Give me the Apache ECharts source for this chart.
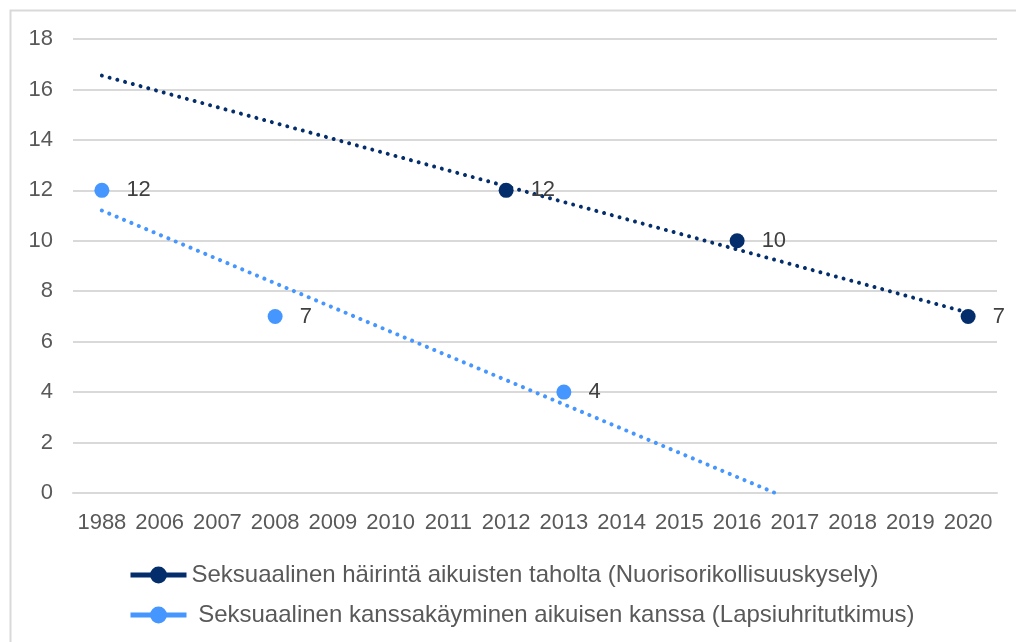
<!DOCTYPE html>
<html>
<head>
<meta charset="utf-8">
<script src="https://cdn.jsdelivr.net/npm/echarts@6/dist/echarts.min.js"></script>
<style>
  html, body { margin: 0; padding: 0; background: #fff; }
  #chart { width: 1016px; height: 642px; }
</style>
</head>
<body>
<div id="chart"></div>
<script>
var years = ['1988', '2006', '2007', '2008', '2009', '2010', '2011', '2012',
  '2013', '2014', '2015', '2016', '2017', '2018', '2019', '2020'];

var nameHarassment = 'Seksuaalinen häirintä aikuisten taholta (Nuorisorikollisuuskysely)';
var nameContact = ' Seksuaalinen kanssakäyminen aikuisen kanssa (Lapsiuhritutkimus)';

var harassment = [null, null, null, null, null, null, null, 12,
  null, null, null, 10, null, null, null, 7];
var contact = [12, null, null, 7, null, null, null, null,
  4, null, null, null, null, null, null, null];

// trendline end points (x = category index)
var harassmentTrend = [[0, 16.55], [15, 7.15]];
var contactTrend = [[0, 11.2], [11.66, 0]];

var navy = '#042e6b';
var blue = '#4596ff';
var font = 'Liberation Sans, Arial, sans-serif';

var chart = echarts.init(document.getElementById('chart'));

var labelStyle = {
  show: true,
  position: 'right',
  distance: 17,
  color: '#404040',
  fontSize: 22,
  fontFamily: font
};

var legendText = {
  color: '#595959',
  fontSize: 24,
  fontFamily: font
};

var option = {
  animation: false,
  backgroundColor: '#fff',
  graphic: [{
    type: 'rect',
    shape: { x: 10.5, y: 10.5, width: 1100, height: 800 },
    style: { fill: 'none', stroke: '#d9d9d9', lineWidth: 2 },
    silent: true,
    z: -1
  }],
  grid: { left: 73, right: 19, top: 39, bottom: 149 },
  legend: [{
    data: [nameHarassment],
    left: 128,
    top: 563,
    padding: 0,
    itemWidth: 56,
    itemHeight: 21,
    textStyle: legendText,
    lineStyle: { width: 5, opacity: 1 }
  }, {
    data: [nameContact],
    left: 128,
    top: 603,
    padding: 0,
    itemWidth: 56,
    itemHeight: 21,
    textStyle: legendText,
    lineStyle: { width: 5, opacity: 1 }
  }],
  xAxis: [{
    type: 'category',
    data: years,
    boundaryGap: true,
    axisLine: { lineStyle: { color: '#d9d9d9', width: 2 } },
    axisTick: { show: false },
    axisLabel: {
      color: '#595959',
      fontSize: 22,
      margin: 19,
      interval: 0,
      fontFamily: font
    }
  }, {
    type: 'value',
    min: -0.5,
    max: 15.5,
    show: false
  }],
  yAxis: {
    type: 'value',
    min: 0,
    max: 18,
    interval: 2,
    axisLine: { show: false },
    axisTick: { show: false },
    splitLine: { lineStyle: { color: '#d9d9d9', width: 2 } },
    axisLabel: {
      color: '#595959',
      fontSize: 22,
      margin: 20,
      fontFamily: font
    }
  },
  series: [{
    name: nameHarassment + ' trend',
    type: 'line',
    xAxisIndex: 1,
    data: harassmentTrend,
    symbol: 'none',
    silent: true,
    lineStyle: { color: navy, width: 4, type: [0.01, 8], cap: 'round' },
    z: 1
  }, {
    name: nameContact + ' trend',
    type: 'line',
    xAxisIndex: 1,
    data: contactTrend,
    symbol: 'none',
    silent: true,
    lineStyle: { color: blue, width: 4, type: [0.01, 8], cap: 'round' },
    z: 1
  }, {
    name: nameHarassment,
    type: 'line',
    data: harassment,
    symbol: 'circle',
    symbolSize: 15,
    connectNulls: false,
    itemStyle: { color: navy },
    lineStyle: { color: navy, opacity: 0 },
    label: labelStyle,
    z: 3
  }, {
    name: nameContact,
    type: 'line',
    data: contact,
    symbol: 'circle',
    symbolSize: 15,
    connectNulls: false,
    itemStyle: { color: blue },
    lineStyle: { color: blue, opacity: 0 },
    label: labelStyle,
    z: 3
  }]
};

chart.setOption(option);
</script>
</body>
</html>
